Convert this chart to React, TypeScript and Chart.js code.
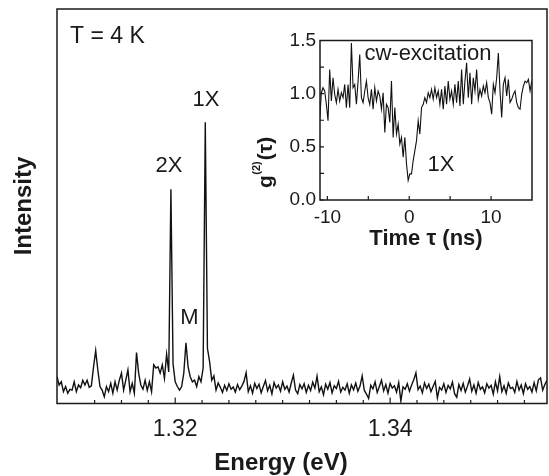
import React, { useEffect, useRef } from 'react';
import { Chart, registerables } from 'chart.js';

Chart.register(...registerables);

const FONT = "'Liberation Sans', Arial, Helvetica, sans-serif";
const INK = '#1a1a1a';

// ---- main spectrum (PL intensity vs energy) ----
const energyStart = 1.309;
const energyStep = 0.0002;
const intensity = [
  6.8, 4.7, 5.5, 3.0, 4.3, 2.6, 3.6, 3.4, 5.5, 3.0,
  4.7, 4.0, 5.9, 4.7, 5.9, 4.1, 4.5, 9.3, 13.4, 8.5,
  4.3, 3.4, 1.7, 4.3, 3.0, 5.1, 2.6, 5.5, 3.4, 5.9,
  7.7, 3.4, 5.9, 8.5, 3.0, 5.1, 2.6, 12.9, 7.7, 4.7,
  3.6, 5.9, 3.3, 5.5, 3.0, 9.8, 9.0, 9.3, 7.7, 9.8,
  6.4, 12.5, 8.0, 54.3, 10.0, 5.5, 4.3, 3.4, 4.3, 7.7,
  15.4, 9.3, 6.8, 5.5, 5.9, 4.3, 6.8, 5.5, 9.0, 71.3,
  14.0, 10.6, 5.9, 7.0, 3.4, 5.2,
  4.1, 2.8, 4.6, 3.3, 5.0, 3.6, 4.2, 2.9, 4.8, 3.5,
  4.4, 5.6, 7.8, 3.0, 4.5, 2.6, 5.1, 3.8, 4.9, 2.7,
  4.3, 5.8, 3.2, 4.6, 2.4, 5.3, 3.9, 4.7, 3.1, 5.5,
  3.6, 4.4, 2.9, 5.2, 7.2, 3.4, 2.5, 4.8, 3.7, 5.0,
  2.8, 4.6, 3.3, 5.4, 3.9, 6.9, 3.0, 4.2, 2.2, 4.9,
  3.6, 5.3, 2.7, 4.5, 3.8, 5.6, 2.9, 4.1, 3.4, 5.0,
  2.6, 4.7, 3.5, 5.2, 3.1, 4.4, 7.0, 3.3, 2.4, 1.3,
  4.6, 3.7, 5.5, 2.8, 4.3, 5.9, 3.2, 4.8, 2.6, 5.1,
  3.9, 4.5, 2.9, 5.3, 0.6, 4.2, 3.6, 5.0, 3.1, 4.7,
  6.0, 7.8, 3.5, 4.4, 2.7, 5.2, 3.8, 4.9, 3.0, 4.3,
  5.6, 1.4, 4.1, 3.4, 5.0, 2.8, 4.6, 3.7, 5.4, 2.5,
  1.6, 4.8, 3.3, 5.1, 2.9, 4.4, 6.2, 3.1, 4.7, 2.6,
  5.3, 3.6, 4.2, 2.7, 5.0, 3.9, 4.6, 2.4, 5.5, 3.2,
  6.8, 3.0, 4.5, 2.6, 5.2, 3.8, 4.1, 2.8, 5.6, 3.4,
  4.7, 2.5, 5.0, 3.6, 4.3, 2.9, 5.3, 3.2, 6.0, 6.5,
  3.4, 4.8, 5.9,
];
const energyTicks = [1.32, 1.34];
const energyMinorTicks = [
  1.3125, 1.315, 1.3175, 1.3225, 1.325, 1.3275, 1.33, 1.3325,
  1.335, 1.3375, 1.3425, 1.345, 1.3475, 1.35, 1.3525,
];

// ---- inset: g2(tau) ----
const tauStart = -10.94;
const tauStep = 0.204;
const g2 = [
  0.745, 1.009, 1.056, 1.025, 0.900, 0.745, 1.227, 0.931, 1.150, 0.994,
  0.916, 1.040, 0.931, 1.009, 0.963, 1.087, 0.869, 1.087, 0.869, 1.477,
  1.056, 1.087, 0.900, 1.118, 1.368, 0.963, 0.916, 1.025, 1.118, 0.963,
  0.900, 1.040, 0.854, 1.056, 0.931, 1.025, 0.978, 0.854, 1.009, 0.636,
  0.900, 0.869, 0.729, 1.118, 0.589, 0.869, 0.620, 0.713, 0.526, 0.589,
  0.402, 0.589, 0.340, 0.184, 0.246, 0.246, 0.371, 0.464, 0.558, 0.745,
  0.620, 0.869, 0.900, 0.963, 0.916, 1.009, 0.963, 1.040, 0.947, 1.056,
  0.963, 1.025, 0.900, 1.040, 0.854, 1.072, 0.900, 1.118, 0.947, 1.025,
  0.900, 1.087, 0.916, 1.118, 0.885, 1.227, 0.900, 1.118, 1.290, 0.963,
  1.196, 0.900, 1.150, 1.025, 1.227, 0.947, 1.040, 0.978, 1.072, 1.009,
  1.103, 0.963, 0.916, 0.807, 1.087, 1.009, 1.150, 1.383, 1.025, 0.776,
  1.087, 1.150, 0.978, 1.134, 0.916, 0.947, 0.994, 1.025, 0.916, 0.869,
  0.854, 0.994, 1.072, 1.118, 1.103, 1.134, 1.025, 1.118,
];
const tauTicks = [-10, 0, 10];
const tauMinorTicks = [-5, 5];
const g2Ticks = [0, 0.5, 1.0, 1.5];
const g2MinorTicks = [0.25, 0.75, 1.25];

function drawFrame(
  chart: any,
  xMajor: number[],
  xMinor: number[],
  yMajor: number[],
  yMinor: number[],
  majorLen: number,
  minorLen: number
) {
  const { ctx, chartArea } = chart;
  const { left, top, right, bottom } = chartArea;
  const xs = chart.scales.x;
  const ys = chart.scales.y;
  ctx.save();
  ctx.strokeStyle = INK;
  ctx.lineWidth = 1.5;
  ctx.strokeRect(left, top, right - left, bottom - top);
  ctx.lineWidth = 1.2;
  ctx.beginPath();
  xMajor.forEach((v) => {
    const p = xs.getPixelForValue(v);
    ctx.moveTo(p, bottom);
    ctx.lineTo(p, bottom - majorLen);
  });
  xMinor.forEach((v) => {
    const p = xs.getPixelForValue(v);
    ctx.moveTo(p, bottom);
    ctx.lineTo(p, bottom - minorLen);
  });
  yMajor.forEach((v) => {
    const p = ys.getPixelForValue(v);
    ctx.moveTo(left, p);
    ctx.lineTo(left + majorLen, p);
  });
  yMinor.forEach((v) => {
    const p = ys.getPixelForValue(v);
    ctx.moveTo(left, p);
    ctx.lineTo(left + minorLen, p);
  });
  ctx.stroke();
  ctx.restore();
}

function text(ctx: any, s: string, x: number, y: number, size: number, bold = false, align = 'center') {
  ctx.font = `${bold ? 'bold ' : ''}${size}px ${FONT}`;
  ctx.fillStyle = INK;
  ctx.textAlign = align;
  ctx.textBaseline = 'middle';
  ctx.fillText(s, x, y);
}

const mainPlugin = {
  id: 'mainDecor',
  afterDatasetsDraw(chart: any) {
    drawFrame(chart, energyTicks, energyMinorTicks, [], [], 6, 3.5);
    const ctx = chart.ctx;
    ctx.save();
    text(ctx, 'T = 4 K', 70, 37, 23, false, 'left');
    text(ctx, '2X', 169, 166, 22);
    text(ctx, '1X', 206, 100, 22);
    text(ctx, 'M', 189.5, 318, 22);
    text(ctx, 'Energy (eV)', 281, 463, 24, true);
    ctx.translate(24.5, 206);
    ctx.rotate(-Math.PI / 2);
    text(ctx, 'Intensity', 0, 0, 24, true);
    ctx.restore();
  },
};

const insetPlugin = {
  id: 'insetDecor',
  afterDatasetsDraw(chart: any) {
    drawFrame(chart, [...tauTicks, ...tauMinorTicks], [], [...g2Ticks, ...g2MinorTicks], [], 4, 3);
    const ctx = chart.ctx;
    ctx.save();
    text(ctx, 'cw-excitation', 188, 34, 22);
    text(ctx, '1X', 201, 145, 22);
    text(ctx, 'Time \u03c4 (ns)', 186, 219, 22, true);
    // rotated y title g(2)(tau)
    ctx.translate(32, 168);
    ctx.rotate(-Math.PI / 2);
    ctx.fillStyle = INK;
    ctx.textAlign = 'left';
    ctx.textBaseline = 'alphabetic';
    ctx.font = `bold 21px ${FONT}`;
    ctx.fillText('g', 0, 0);
    let xPos = ctx.measureText('g').width + 0.5;
    ctx.font = `bold 11px ${FONT}`;
    ctx.fillText('(2)', xPos, -12);
    xPos += ctx.measureText('(2)').width + 1;
    ctx.font = `bold 21px ${FONT}`;
    ctx.fillText('(\u03c4)', xPos, 0);
    ctx.restore();
  },
};

export default function App() {
  const mainRef = useRef<HTMLCanvasElement>(null);
  const insetRef = useRef<HTMLCanvasElement>(null);

  useEffect(() => {
    const mainData = intensity.map((v, i) => ({ x: energyStart + i * energyStep, y: v }));
    const insetData = g2.map((v, i) => ({ x: tauStart + i * tauStep, y: v }));

    const main = new Chart(mainRef.current as HTMLCanvasElement, {
      type: 'line',
      data: {
        datasets: [
          {
            data: mainData,
            borderColor: '#111',
            borderWidth: 1.4,
            pointRadius: 0,
            tension: 0,
            fill: false,
          },
        ],
      },
      options: {
        animation: false,
        responsive: false,
        devicePixelRatio: 1,
        layout: { padding: { top: 9, right: 2, left: 0, bottom: 0 } },
        plugins: { legend: { display: false }, tooltip: { enabled: false } },
        scales: {
          x: {
            type: 'linear',
            min: 1.309,
            max: 1.3546,
            afterBuildTicks: (s: any) => {
              s.ticks = energyTicks.map((v) => ({ value: v }));
            },
            afterFit: (s: any) => {
              s.height = 72.5;
            },
            grid: { display: false, drawTicks: false },
            border: { display: false },
            ticks: {
              callback: (v: any) => Number(v).toFixed(2),
              font: { family: FONT, size: 23 },
              color: INK,
              padding: 12,
              maxRotation: 0,
              autoSkip: false,
            },
          },
          y: {
            type: 'linear',
            min: 0,
            max: 100,
            afterFit: (s: any) => {
              s.width = 57;
            },
            grid: { display: false, drawTicks: false },
            border: { display: false },
            ticks: { display: false },
          },
        },
      } as any,
      plugins: [mainPlugin],
    });

    const inset = new Chart(insetRef.current as HTMLCanvasElement, {
      type: 'line',
      data: {
        datasets: [
          {
            data: insetData,
            borderColor: '#111',
            borderWidth: 1.1,
            pointRadius: 0,
            tension: 0,
            fill: false,
          },
        ],
      },
      options: {
        animation: false,
        responsive: false,
        devicePixelRatio: 1,
        layout: { padding: { top: 20.5, right: 8, left: 0, bottom: 0 } },
        plugins: { legend: { display: false }, tooltip: { enabled: false } },
        scales: {
          x: {
            type: 'linear',
            min: -10.9,
            max: 15.0,
            afterBuildTicks: (s: any) => {
              s.ticks = tauTicks.map((v) => ({ value: v }));
            },
            afterFit: (s: any) => {
              s.height = 60;
            },
            grid: { display: false, drawTicks: false },
            border: { display: false },
            ticks: {
              callback: (v: any) => String(v),
              font: { family: FONT, size: 19 },
              color: INK,
              padding: 6,
              maxRotation: 0,
              autoSkip: false,
            },
          },
          y: {
            type: 'linear',
            min: 0,
            max: 1.5,
            afterBuildTicks: (s: any) => {
              s.ticks = g2Ticks.map((v) => ({ value: v }));
            },
            afterFit: (s: any) => {
              s.width = 80;
            },
            grid: { display: false, drawTicks: false },
            border: { display: false },
            ticks: {
              callback: (v: any) => Number(v).toFixed(1),
              font: { family: FONT, size: 19 },
              color: INK,
              padding: 4,
              autoSkip: false,
            },
          },
        },
      } as any,
      plugins: [insetPlugin],
    });

    return () => {
      main.destroy();
      inset.destroy();
    };
  }, []);

  return (
    <div style={{ position: 'absolute', left: 0, top: 0, width: 549, height: 476, background: '#fff' }}>
      <canvas ref={mainRef} width={549} height={476} style={{ position: 'absolute', left: 0, top: 0 }} />
      <canvas ref={insetRef} width={300} height={240} style={{ position: 'absolute', left: 240, top: 20 }} />
    </div>
  );
}
